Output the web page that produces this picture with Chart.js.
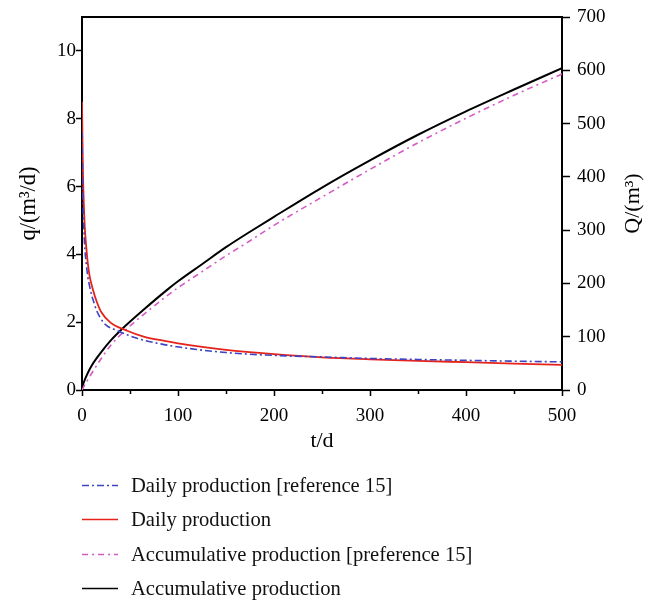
<!DOCTYPE html>
<html><head><meta charset="utf-8">
<script src="https://cdn.jsdelivr.net/npm/chart.js@4"></script>
<style>html,body{margin:0;padding:0;background:#fff;}</style>
</head><body>
<canvas id="c" width="655" height="600"></canvas>
<script>
// ---- data ----
const seriesNames = [
  'Daily production [reference 15]',
  'Daily production',
  'Accumulative production [preference 15]',
  'Accumulative production'
];
const tDailyRef = [0,0.5,1,2,3,4.5,6,8,10,12,15,23,37,58,82,110,150,200,250,300,350,400,450,500];
const qDailyRef = [7.6,6.4,5.6,4.7,4.15,3.7,3.35,3.05,2.8,2.62,2.36,1.97,1.75,1.52,1.36,1.23,1.105,1.02,0.975,0.93,0.9,0.875,0.85,0.83];
const tDaily = [0,0.3,1,2,3,4.5,6,8,11.5,15,20,30,45,65,86,110,150,200,250,300,350,400,450,500];
const qDaily = [8.5,7.8,6.4,5.4,4.75,4.2,3.75,3.35,2.95,2.63,2.3,1.98,1.77,1.57,1.45,1.33,1.185,1.06,0.965,0.905,0.86,0.82,0.78,0.74];
const tAcc = [0,1,2,5,10,20,30,45,65,88,100,125,150,175,200,250,300,350,400,450,500];
const qAcc = [0,9.5,15,28,45.5,71,93,120,152,187,204,236,268,297,325,380,431,479,523,564,604];
const qAccRef = [0,3.5,7,16,31,59,84,112,143,176,192,222,252,280,309,362,414,464,510,553,593];
const xTicksMinor = [50,150,250,350,450];

const serif = '"Liberation Serif", "DejaVu Serif", serif';
const pts = (xs, ys) => xs.map((x, i) => ({x, y: ys[i]}));

const extras = {
  id: 'extras',
  afterDraw(chart) {
    const ctx = chart.ctx, a = chart.chartArea;
    ctx.save();
    // top frame line
    ctx.strokeStyle = '#000'; ctx.lineWidth = 2;
    ctx.beginPath(); ctx.moveTo(a.left - 1, a.top); ctx.lineTo(a.right + 1, a.top); ctx.stroke();
    // minor x ticks
    ctx.lineWidth = 1.5;
    const xs = chart.scales.x;
    xTicksMinor.forEach(v => {
      const px = Math.round(xs.getPixelForValue(v)) + 0.5;
      ctx.beginPath(); ctx.moveTo(px, a.bottom); ctx.lineTo(px, a.bottom + 4); ctx.stroke();
    });
    // right title (reads bottom to top)
    ctx.fillStyle = '#000';
    ctx.font = '22px ' + serif;
    ctx.textAlign = 'center'; ctx.textBaseline = 'middle';
    ctx.translate(633, (a.top + a.bottom) / 2);
    ctx.rotate(-Math.PI / 2);
    ctx.fillText('Q/(m\u00B3)', 0, 0);
    ctx.restore();
    // legend
    ctx.save();
    const rows = [485, 519, 554, 588];
    chart.data.datasets.forEach((ds, i) => {
      const y = rows[i] + 0.5;
      ctx.strokeStyle = ds.borderColor;
      ctx.lineWidth = 1.5;
      ctx.setLineDash(ds.borderDash || []);
      ctx.beginPath(); ctx.moveTo(82, y); ctx.lineTo(118, y); ctx.stroke();
      ctx.setLineDash([]);
      ctx.fillStyle = '#111';
      ctx.font = '20.6px ' + serif;
      ctx.textAlign = 'left'; ctx.textBaseline = 'alphabetic';
      ctx.fillText(ds.label, 131, rows[i] + 7);
    });
    ctx.restore();
  }
};

const axisCommon = {
  grid: {drawOnChartArea: false, drawTicks: true, tickLength: 6, color: '#000', tickWidth: 1.5},
  border: {display: true, color: '#000', width: 2},
};

new Chart(document.getElementById('c'), {
  type: 'line',
  data: {
    datasets: [
      {label: seriesNames[0], data: pts(tDailyRef, qDailyRef), yAxisID: 'y', borderColor: '#3b44c4', borderWidth: 1.6, borderDash: [7,3,2,3]},
      {label: seriesNames[1], data: pts(tDaily, qDaily), yAxisID: 'y', borderColor: '#e5231b', borderWidth: 1.8},
      {label: seriesNames[2], data: pts(tAcc, qAccRef), yAxisID: 'y2', borderColor: '#d45ac6', borderWidth: 1.6, borderDash: [6,4,2,4]},
      {label: seriesNames[3], data: pts(tAcc, qAcc), yAxisID: 'y2', borderColor: '#000', borderWidth: 2}
    ]
  },
  options: {
    responsive: false, animation: false, devicePixelRatio: 1,
    layout: {padding: {top: 17, right: 0, bottom: 144, left: 0}},
    elements: {point: {radius: 0}, line: {cubicInterpolationMode: 'monotone', fill: false}},
    plugins: {legend: {display: false}, tooltip: {enabled: false}},
    scales: {
      x: Object.assign({}, axisCommon, {
        type: 'linear', position: 'bottom', min: 0, max: 500,
        ticks: {stepSize: 100, color: '#000', font: {family: serif, size: 19}, padding: 9, maxRotation: 0},
        title: {display: true, text: 't/d', color: '#000', font: {family: serif, size: 22}, padding: {top: 0, bottom: 2}},
        afterFit(s) { s.height = 66; }
      }),
      y: Object.assign({}, axisCommon, {
        type: 'linear', position: 'left', min: 0, max: 11,
        ticks: {stepSize: 2, color: '#000', font: {family: serif, size: 19, lineHeight: 1}, padding: 0},
        title: {display: true, text: 'q/(m\u00B3/d)', color: '#000', font: {family: serif, size: 22.5}, padding: {top: 16, bottom: 0}},
        afterBuildTicks(s) { s.ticks = s.ticks.filter(t => t.value <= 10); },
        afterFit(s) { s.width = 82; }
      }),
      y2: Object.assign({}, axisCommon, {
        type: 'linear', position: 'right', min: 0, max: 700,
        grid: {drawOnChartArea: false, drawTicks: true, tickLength: 8, color: '#000', tickWidth: 1.5},
        ticks: {stepSize: 100, color: '#000', font: {family: serif, size: 19, lineHeight: 1}, padding: 7},
        afterFit(s) { s.width = 93; }
      })
    }
  },
  plugins: [extras]
});
</script>
</body></html>
